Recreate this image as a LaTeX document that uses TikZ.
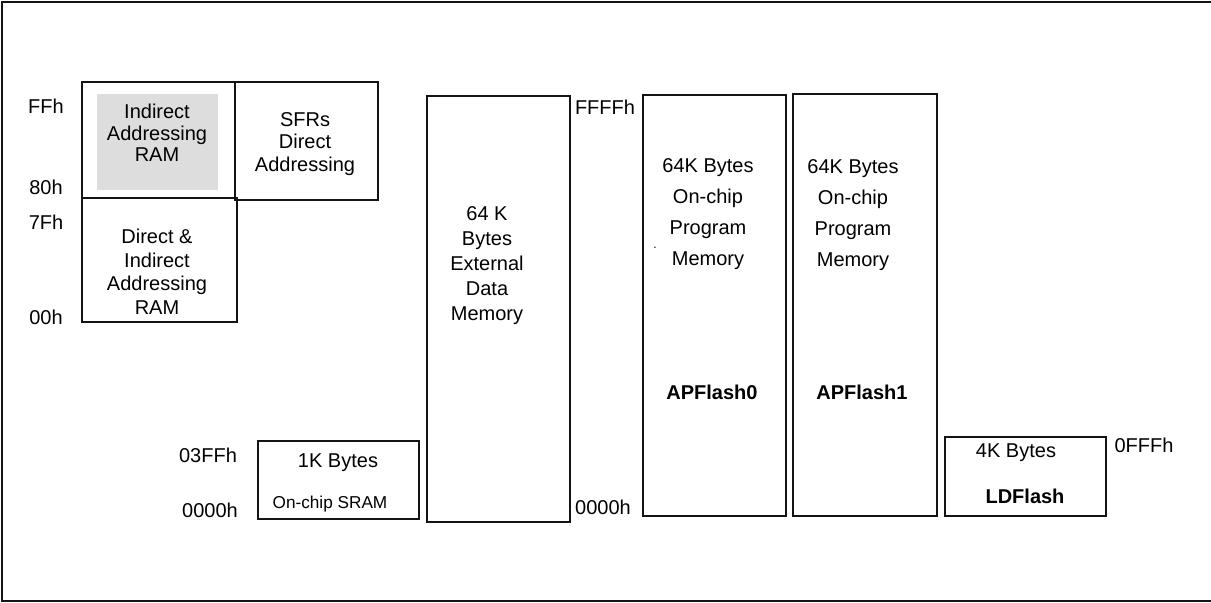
\documentclass[tikz,border=0pt]{standalone}
\usepackage{fontspec}
\setmainfont{Liberation Sans}
\usetikzlibrary{positioning}
\definecolor{fillGray}{RGB}{221, 221, 221}
\definecolor{lineDark}{RGB}{20, 20, 20}

\begin{document}
\begin{tikzpicture}[
    x=0.5pt, y=-0.5pt,
    memblock/.style={draw=lineDark, line width=1pt},
    txt/.style={font=\fontsize{10}{#1}\selectfont, align=center, inner sep=0pt},
    txt/.default=11,
    addr/.style={font=\fontsize{10}{11}\selectfont, inner sep=0pt}
]
\useasboundingbox (0,0) rectangle (1211,603);

% outer frame (open on the right)
\draw[line width=1pt, lineDark] (1211,2) -- (2,2) -- (2,601) -- (1211,601);

% internal data memory
\fill[fillGray] (97,94) rectangle (218,190);
\draw[memblock] (82,82) rectangle (235,198);
\draw[memblock] (235,82) rectangle (378,200);
\draw[memblock] (82,198) rectangle (237,322);

\node[txt=10.75] (iram) at (157,133) {Indirect\\Addressing\\RAM};
\node[txt=11.25] (sfr) at (305,144) {SFRs\\Direct\\Addressing};
\node[txt=11.75] (dram) at (157,272) {Direct \&\\Indirect\\Addressing\\RAM};

\node[addr] (aFF) at (46,106) {FFh};
\node[addr] (a80) at (46,187) {80h};
\node[addr] (a7F) at (46,222) {7Fh};
\node[addr] (a00) at (46,317) {00h};

% on-chip SRAM
\draw[memblock] (258,441) rectangle (419,519);
\node[addr] (sram1) at (338,463) {1K Bytes};
\node[font=\fontsize{8.6}{10}\selectfont, inner sep=0pt] (sram2) at (330,504) {On-chip SRAM};
\node[addr] (s3FF) at (208,455) {03FFh};
\node[addr] (s000) at (210,510) {0000h};

% external data memory
\draw[memblock] (427,96) rectangle (570,522);
\node[txt=12.5] (xdata) at (487,266) {64 K\\Bytes\\External\\Data\\Memory};

\node[addr] (xFFFF) at (605,107) {FFFFh};
\node[addr] (x0000) at (603,507) {0000h};

% application flash
\draw[memblock] (643,95) rectangle (786,516);
\draw[memblock] (793,94) rectangle (937,516);

\node[txt=15.5] (ap0) at (708,214) {64K Bytes\\On-chip\\Program\\Memory};
\node[inner sep=0pt, font=\fontsize{6}{6}\selectfont] (ap0dot) at (655,248) {.};
\node[font=\fontsize{10}{11}\selectfont\bfseries, inner sep=0pt] (ap0name) at (712,392) {APFlash0};

\node[txt=15.5] (ap1) at (853,215) {64K Bytes\\On-chip\\Program\\Memory};
\node[font=\fontsize{10}{11}\selectfont\bfseries, inner sep=0pt] (ap1name) at (862,392) {APFlash1};

% loader flash
\draw[memblock] (945,437) rectangle (1106,516);
\node[addr] (ld1) at (1016,453) {4K Bytes};
\node[font=\fontsize{10}{11}\selectfont\bfseries, inner sep=0pt] (ldname) at (1025,496) {LDFlash};
\node[addr] (l0FFF) at (1144,445) {0FFFh};

\end{tikzpicture}
\end{document}
